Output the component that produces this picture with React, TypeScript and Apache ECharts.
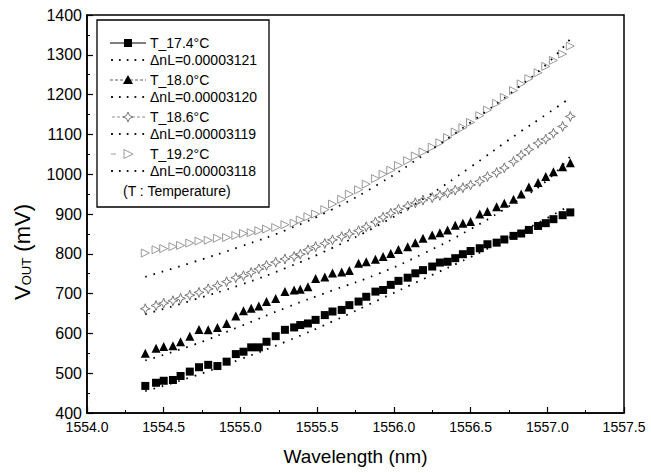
import React, { useEffect, useRef } from 'react';
import * as echarts from 'echarts';

const wavelength = [
  1554.38, 1554.45, 1554.5, 1554.56, 1554.61, 1554.67, 1554.73, 1554.79, 1554.85, 1554.91,
  1554.97, 1555.02, 1555.07, 1555.12, 1555.17, 1555.23, 1555.29, 1555.35, 1555.39, 1555.44,
  1555.49, 1555.55, 1555.6, 1555.66, 1555.71, 1555.77, 1555.82, 1555.88, 1555.93, 1555.98,
  1556.03, 1556.09, 1556.14, 1556.19, 1556.25, 1556.3, 1556.35, 1556.4, 1556.45, 1556.5,
  1556.56, 1556.61, 1556.67, 1556.72, 1556.78, 1556.83, 1556.88, 1556.94, 1556.99, 1557.04,
  1557.1, 1557.15,
];

const t174 = [
  468, 476, 481, 483, 493, 504, 515, 521, 518, 529,
  548, 554, 565, 565, 579, 593, 609, 615, 621, 625,
  634, 646, 655, 659, 671, 680, 692, 705, 709, 722,
  732, 740, 751, 759, 768, 778, 780, 789, 799, 807,
  814, 824, 828, 836, 845, 851, 860, 870, 877, 887,
  897, 904,
];

const t180 = [
  550, 563, 567, 569, 579, 593, 610, 609, 615, 625,
  644, 657, 663, 669, 680, 688, 705, 709, 711, 717,
  738, 742, 752, 754, 758, 776, 780, 786, 793, 801,
  811, 818, 828, 839, 847, 853, 860, 872, 877, 881,
  900, 906, 918, 927, 937, 950, 968, 979, 994, 1006,
  1019, 1029,
];

const t186 = [
  662, 670, 676, 682, 688, 696, 703, 712, 720, 730,
  740, 745, 753, 762, 771, 779, 787, 793, 799, 810,
  818, 826, 835, 843, 850, 858, 868, 880, 892, 902,
  912, 920, 928, 935, 941, 947, 953, 960, 966, 973,
  982, 994, 1004, 1016, 1032, 1048, 1062, 1078, 1088, 1103,
  1120, 1145,
];

const t192 = [
  802, 810, 813, 818, 821, 827, 832, 834, 839, 841,
  846, 851, 853, 858, 862, 866, 873, 877, 885, 893,
  900, 911, 925, 937, 950, 961, 975, 989, 1000, 1010,
  1022, 1034, 1046, 1056, 1068, 1079, 1092, 1106, 1117, 1130,
  1147, 1161, 1178, 1193, 1210, 1227, 1240, 1255, 1271, 1286,
  1302, 1322,
];

const fitWavelength = [1554.38, 1554.7, 1555.0, 1555.3, 1555.6, 1555.9, 1556.2, 1556.5, 1556.8, 1557.0, 1557.15];
const fit3121 = [455, 493, 535, 580, 630, 684, 738, 792, 850, 890, 922];
const fit3120 = [532, 572, 618, 665, 708, 750, 802, 862, 932, 985, 1045];
const fit3119 = [648, 685, 722, 765, 815, 872, 940, 1018, 1100, 1152, 1192];
const fit3118 = [742, 780, 818, 860, 912, 975, 1050, 1130, 1215, 1278, 1340];

const legendTemps = ['T_17.4°C', 'T_18.0°C', 'T_18.6°C', 'T_19.2°C'];
const legendFits = ['ΔnL=0.00003121', 'ΔnL=0.00003120', 'ΔnL=0.00003119', 'ΔnL=0.00003118'];
const legendNote = '(T : Temperature)';

const FONT = '"Liberation Sans", Arial, sans-serif';
const STAR = 'path://M5,0 L6.4,3.6 10,5 6.4,6.4 5,10 3.6,6.4 0,5 3.6,3.6 Z';

function pairs(xs: number[], ys: number[]) {
  return ys.map((y, i) => [xs[i], y]);
}

function buildLegend() {
  const children: any[] = [];
  children.push({
    type: 'rect',
    shape: { x: 97, y: 20, width: 172, height: 187 },
    style: { fill: '#fff', stroke: '#000', lineWidth: 1.3 },
    z: 100,
  });
  const rowY = (i: number) => 43 + 37 * i;
  legendTemps.forEach((t, i) => {
    const y = rowY(i);
    children.push({
      type: 'text',
      style: { text: t, x: 150, y, font: `14px ${FONT}`, fill: '#000', verticalAlign: 'middle', textVerticalAlign: 'middle' },
      z: 101,
    });
    const fy = y + 17;
    children.push({
      type: 'text',
      style: { text: legendFits[i], x: 150, y: fy, font: `14px ${FONT}`, fill: '#000', verticalAlign: 'middle', textVerticalAlign: 'middle' },
      z: 101,
    });
    for (let k = 0; k < 5; k++) {
      children.push({
        type: 'rect',
        shape: { x: 112 + k * 7.8 - 0.9, y: fy - 0.9, width: 1.8, height: 1.8 },
        style: { fill: '#000' },
        z: 101,
      });
    }
  });
  children.push({ type: 'line', shape: { x1: 110, y1: rowY(0), x2: 146, y2: rowY(0) }, style: { stroke: '#000', lineWidth: 1 }, z: 101 });
  children.push({ type: 'rect', shape: { x: 124, y: rowY(0) - 4, width: 8, height: 8 }, style: { fill: '#000' }, z: 102 });

  children.push({ type: 'line', shape: { x1: 110, y1: rowY(1), x2: 146, y2: rowY(1) }, style: { stroke: '#333', lineWidth: 0.8, lineDash: [3, 2] }, z: 101 });
  children.push({ type: 'polygon', shape: { points: [[128, rowY(1) - 5], [133, rowY(1) + 4], [123, rowY(1) + 4]] }, style: { fill: '#000' }, z: 102 });

  children.push({ type: 'line', shape: { x1: 112, y1: rowY(2), x2: 146, y2: rowY(2) }, style: { stroke: '#777', lineWidth: 0.8, lineDash: [3, 2] }, z: 101 });
  const sy = rowY(2);
  children.push({
    type: 'polygon',
    shape: { points: [[128, sy - 5], [129.5, sy - 1.5], [133, sy], [129.5, sy + 1.5], [128, sy + 5], [126.5, sy + 1.5], [123, sy], [126.5, sy - 1.5]] },
    style: { fill: '#fff', stroke: '#777', lineWidth: 1 },
    z: 102,
  });

  const ty = rowY(3);
  children.push({ type: 'line', shape: { x1: 111, y1: ty, x2: 116, y2: ty }, style: { stroke: '#888', lineWidth: 0.8 }, z: 101 });
  children.push({
    type: 'polygon',
    shape: { points: [[124, ty - 4.5], [124, ty + 4.5], [133, ty]] },
    style: { fill: '#fff', stroke: '#999', lineWidth: 1 },
    z: 102,
  });

  children.push({
    type: 'text',
    style: { text: legendNote, x: 123, y: 191, font: `14px ${FONT}`, fill: '#000', verticalAlign: 'middle', textVerticalAlign: 'middle' },
    z: 101,
  });
  return children;
}

export default function App() {
  const ref = useRef<HTMLDivElement>(null);
  useEffect(() => {
    const chart = echarts.init(ref.current!, null, { renderer: 'svg' });
    const fitStyle = { color: '#000', width: 1.8, type: [1.6, 7] as any, cap: 'butt' as any };
    const option: any = {
      animation: false,
      backgroundColor: '#fff',
      textStyle: { fontFamily: FONT },
      grid: { left: 87, right: 27, top: 15, bottom: 60, show: true, borderColor: '#000', borderWidth: 1.5, backgroundColor: 'transparent' },
      xAxis: {
        type: 'value',
        min: 1554,
        max: 1557.5,
        interval: 0.5,
        name: 'Wavelength (nm)',
        nameLocation: 'middle',
        nameGap: 34,
        nameTextStyle: { fontSize: 19, color: '#000', fontFamily: FONT },
        axisLine: { lineStyle: { color: '#000', width: 1.5 } },
        axisTick: { inside: true, length: 6, lineStyle: { color: '#000', width: 1.2 } },
        minorTick: { show: true, splitNumber: 2, length: 3, lineStyle: { color: '#000', width: 1 } },
        splitLine: { show: false },
        axisLabel: { fontSize: 14, color: '#000', margin: 7, fontFamily: FONT, formatter: (v: number) => v.toFixed(1) },
      },
      yAxis: {
        type: 'value',
        min: 400,
        max: 1400,
        interval: 100,
        axisLine: { lineStyle: { color: '#000', width: 1.5 } },
        axisTick: { inside: true, length: 6, lineStyle: { color: '#000', width: 1.2 } },
        minorTick: { show: true, splitNumber: 2, length: 3, lineStyle: { color: '#000', width: 1 } },
        splitLine: { show: false },
        axisLabel: { fontSize: 16, color: '#000', margin: 5, fontFamily: FONT, formatter: (v: number) => String(v) },
      },
      series: [
        { type: 'line', data: pairs(fitWavelength, fit3121), smooth: true, showSymbol: false, lineStyle: fitStyle, z: 3 },
        { type: 'line', data: pairs(fitWavelength, fit3120), smooth: true, showSymbol: false, lineStyle: fitStyle, z: 3 },
        { type: 'line', data: pairs(fitWavelength, fit3119), smooth: true, showSymbol: false, lineStyle: fitStyle, z: 3 },
        { type: 'line', data: pairs(fitWavelength, fit3118), smooth: true, showSymbol: false, lineStyle: fitStyle, z: 3 },
        { type: 'scatter', data: pairs(wavelength, t174), symbol: 'rect', symbolSize: 8, itemStyle: { color: '#000', opacity: 1 }, z: 2 },
        { type: 'scatter', data: pairs(wavelength, t180), symbol: 'triangle', symbolSize: 9, itemStyle: { color: '#000', opacity: 1 }, z: 2 },
        { type: 'scatter', data: pairs(wavelength, t186), symbol: STAR, symbolSize: 10, itemStyle: { color: 'rgba(255,255,255,0)', borderColor: '#777', borderWidth: 1, opacity: 1 }, z: 2 },
        { type: 'scatter', data: pairs(wavelength, t192), symbol: 'triangle', symbolSize: 8, symbolRotate: -90, itemStyle: { color: 'rgba(255,255,255,0)', borderColor: '#999', borderWidth: 1, opacity: 1 }, z: 2 },
      ],
      graphic: [
        ...buildLegend(),
        {
          type: 'text',
          x: 22,
          y: 252,
          rotation: Math.PI / 2,
          style: {
            text: '{v|V}{s|OUT}{v| (mV)}',
            align: 'center',
            verticalAlign: 'middle',
            textAlign: 'center',
            textVerticalAlign: 'middle',
            fill: '#000',
            rich: {
              v: { fontSize: 22, fontFamily: FONT, fill: '#000', color: '#000' },
              s: { fontSize: 13, fontFamily: FONT, fill: '#000', color: '#000', verticalAlign: 'bottom', padding: [8, 0, 0, 0] },
            },
          },
        },
      ],
    };
    chart.setOption(option);
    return () => chart.dispose();
  }, []);
  return <div ref={ref} style={{ position: 'fixed', left: 0, top: 0, width: 651, height: 473 }} />;
}
